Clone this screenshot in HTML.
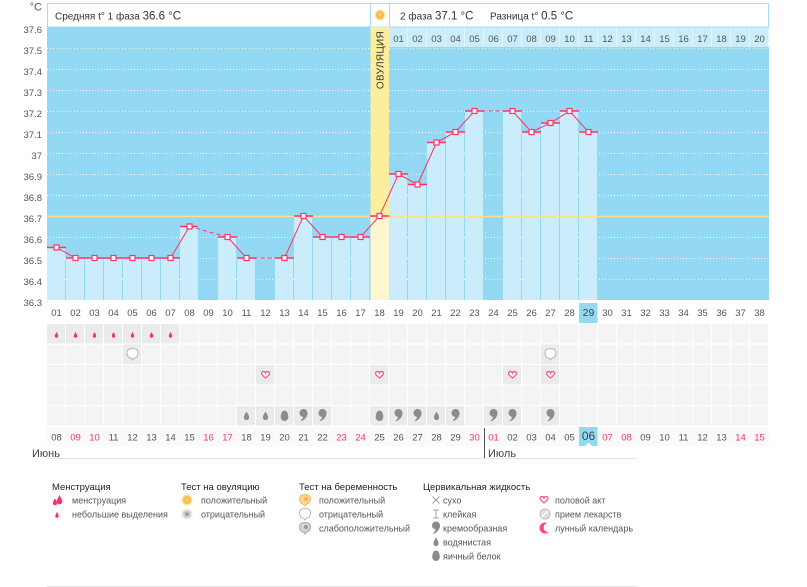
<!DOCTYPE html>
<html><head><meta charset="utf-8"><style>
html,body{margin:0;padding:0;background:#fff;}
svg{display:block;font-family:"Liberation Sans","DejaVu Sans",sans-serif;}
</style></head><body>
<svg width="807" height="587" viewBox="0 0 807 587" xmlns="http://www.w3.org/2000/svg">
<defs>
<pattern id="vsep" x="47" y="0" width="19" height="10" patternUnits="userSpaceOnUse"><rect x="18" y="0" width="1" height="10" fill="#fff"/></pattern>
<pattern id="vsepb" x="47" y="0" width="19" height="10" patternUnits="userSpaceOnUse"><rect x="18" y="0" width="1" height="10" fill="#e3f6fd"/></pattern>
<g id="mdrop"><path d="M0,-3 C0.8,-1.5 1.7,-0.3 1.7,1 A1.7,1.7 0 0 1 -1.7,1 C-1.7,-0.3 -0.8,-1.5 0,-3 Z" fill="#ff2d6a"/></g>
<g id="bub"><path d="M-5.5,-1 C-5.5,-4.5 -3,-5.5 0,-5.5 C3,-5.5 5.5,-4.5 5.5,-1 C5.5,2.5 3,4 1,4.5 L0,6 L-1,4.5 C-3,4 -5.5,2.5 -5.5,-1 Z" fill="#fff" stroke="#b5b5b5" stroke-width="1"/></g>
<g id="heart"><path d="M0,3 C-1,2 -4,0 -4,-1.5 C-4,-3 -3,-3.5 -2,-3.5 C-1,-3.5 -0.3,-2.8 0,-2 C0.3,-2.8 1,-3.5 2,-3.5 C3,-3.5 4,-3 4,-1.5 C4,0 1,2 0,3 Z" fill="#fff" stroke="#ff4b86" stroke-width="1.2"/></g>
<g id="cdrop"><path d="M0,-4.5 C1,-2.5 2.6,-0.8 2.6,1.5 A2.6,2.6 0 0 1 -2.6,1.5 C-2.6,-0.8 -1,-2.5 0,-4.5 Z" fill="#8c8c8c"/></g>
<g id="egg"><path d="M0,-5.5 C2.5,-5.5 3.8,-2 3.8,0.8 C3.8,3.5 2,5 0,5 C-2,5 -3.8,3.5 -3.8,0.8 C-3.8,-2 -2.5,-5.5 0,-5.5 Z" fill="#8c8c8c"/></g>
<g id="comma"><path d="M-4,-2 A4,4 0 1 1 4,-2 C4,2 1,5.5 -3.5,6.5 C-1.5,4.5 -0.5,3 -0.5,2 A4,4 0 0 1 -4,-2 Z" fill="#8c8c8c"/></g>
<g id="sun"><circle r="5.5" fill="#fbe3a0"/><circle r="4" fill="#f8b64c"/><circle r="2" fill="#fbca70"/></g>
</defs>
<rect width="807" height="587" fill="#fff"/>

<!-- header -->
<rect x="47.5" y="3.5" width="721" height="23.5" fill="#fff" stroke="#a8def3"/>
<line x1="370.5" y1="3.5" x2="370.5" y2="27" stroke="#a8def3"/>
<line x1="389.5" y1="3.5" x2="389.5" y2="27" stroke="#a8def3"/>
<use href="#sun" x="380" y="15"/>
<g font-size="10" fill="#333">
<text x="55" y="19.5">Средняя t° 1 фаза <tspan font-size="11.5">36.6 °C</tspan></text>
<text x="400" y="19.5">2 фаза <tspan font-size="11.5">37.1 °C</tspan></text>
<text x="490" y="19.5">Разница t° <tspan font-size="11.5">0.5 °C</tspan></text>
</g>

<!-- plot area -->
<rect x="47" y="27" width="722" height="273" fill="#93d9f3"/>
<rect x="389" y="27.5" width="380" height="19.5" fill="#cbedfb"/>
<rect x="389" y="27.5" width="380" height="19.5" fill="url(#vsepb)"/>
<g font-size="9.5" fill="#555" text-anchor="middle">
<text x="398.5" y="42">01</text><text x="417.5" y="42">02</text><text x="436.5" y="42">03</text><text x="455.5" y="42">04</text><text x="474.5" y="42">05</text><text x="493.5" y="42">06</text><text x="512.5" y="42">07</text><text x="531.5" y="42">08</text><text x="550.5" y="42">09</text><text x="569.5" y="42">10</text><text x="588.5" y="42">11</text><text x="607.5" y="42">12</text><text x="626.5" y="42">13</text><text x="645.5" y="42">14</text><text x="664.5" y="42">15</text><text x="683.5" y="42">16</text><text x="702.5" y="42">17</text><text x="721.5" y="42">18</text><text x="740.5" y="42">19</text><text x="759.5" y="42">20</text>
</g>
<g stroke="#fff" stroke-dasharray="1 2" stroke-width="1">
<line x1="47" y1="48.5" x2="769" y2="48.5"/><line x1="47" y1="69.5" x2="769" y2="69.5"/><line x1="47" y1="90.5" x2="769" y2="90.5"/><line x1="47" y1="111.5" x2="769" y2="111.5"/><line x1="47" y1="132.5" x2="769" y2="132.5"/><line x1="47" y1="153.5" x2="769" y2="153.5"/><line x1="47" y1="174.5" x2="769" y2="174.5"/><line x1="47" y1="195.5" x2="769" y2="195.5"/><line x1="47" y1="237.5" x2="769" y2="237.5"/><line x1="47" y1="258.5" x2="769" y2="258.5"/><line x1="47" y1="279.5" x2="769" y2="279.5"/>
</g>
<!-- ovulation column -->
<rect x="370.5" y="27" width="18.5" height="273" fill="#fcee9c"/>
<text transform="translate(383.5,60) rotate(-90)" font-size="10" fill="#333" text-anchor="middle" letter-spacing="0.3">ОВУЛЯЦИЯ</text>

<!-- bars -->
<g fill="#cbedfb">
<rect x="47" y="247.5" width="18" height="52.5"/>
<rect x="66" y="258" width="18" height="42"/><rect x="85" y="258" width="18" height="42"/><rect x="104" y="258" width="18" height="42"/><rect x="123" y="258" width="18" height="42"/><rect x="142" y="258" width="18" height="42"/><rect x="161" y="258" width="18" height="42"/>
<rect x="180" y="226.5" width="18" height="73.5"/>
<rect x="218" y="237" width="18" height="63"/>
<rect x="237" y="258" width="18" height="42"/>
<rect x="275" y="258" width="18" height="42"/>
<rect x="294" y="216" width="18" height="84"/>
<rect x="313" y="237" width="18" height="63"/><rect x="332" y="237" width="18" height="63"/><rect x="351" y="237" width="18" height="63"/>
<rect x="389" y="174" width="18" height="126"/>
<rect x="408" y="184.5" width="18" height="115.5"/>
<rect x="427" y="142.5" width="18" height="157.5"/>
<rect x="446" y="132" width="18" height="168"/>
<rect x="465" y="111" width="18" height="189"/>
<rect x="503" y="111" width="18" height="189"/>
<rect x="522" y="132" width="18" height="168"/>
<rect x="541" y="123" width="18" height="177"/>
<rect x="560" y="111" width="18" height="189"/>
<rect x="579" y="132" width="18" height="168"/>
</g>
<rect x="370.5" y="216" width="18.5" height="84" fill="#fef6cf"/>

<!-- coverline -->
<line x1="47" y1="216.5" x2="769" y2="216.5" stroke="#f6e48a" stroke-width="1.5"/>

<!-- bar top lines -->
<g stroke="#ff3366" stroke-width="1.5">
<line x1="47" y1="247.5" x2="66" y2="247.5"/>
<line x1="66" y1="258" x2="180" y2="258"/>
<line x1="180" y1="226.5" x2="198" y2="226.5"/>
<line x1="218" y1="237" x2="237" y2="237"/>
<line x1="237" y1="258" x2="256" y2="258"/>
<line x1="275" y1="258" x2="294" y2="258"/>
<line x1="294" y1="216" x2="313" y2="216"/>
<line x1="313" y1="237" x2="370" y2="237"/>
<line x1="370" y1="216" x2="389" y2="216"/>
<line x1="389" y1="174" x2="408" y2="174"/>
<line x1="408" y1="184.5" x2="427" y2="184.5"/>
<line x1="427" y1="142.5" x2="446" y2="142.5"/>
<line x1="446" y1="132" x2="465" y2="132"/>
<line x1="465" y1="111" x2="484" y2="111"/>
<line x1="503" y1="111" x2="522" y2="111"/>
<line x1="522" y1="132" x2="541" y2="132"/>
<line x1="541" y1="123" x2="560" y2="123"/>
<line x1="560" y1="111" x2="579" y2="111"/>
<line x1="579" y1="132" x2="598" y2="132"/>
</g>
<!-- connecting lines -->
<g stroke="#ff3366" stroke-width="1" fill="none">
<polyline points="56.5,247.5 75.5,258 94.5,258 113.5,258 132.5,258 151.5,258 170.5,258 189.5,226.5"/>
<polyline points="227.5,237 246.5,258"/>
<polyline points="284.5,258 303.5,216 322.5,237 341.5,237 360.5,237 379.5,216 398.5,174 417.5,184.5 436.5,142.5 455.5,132 474.5,111"/>
<polyline points="512.5,111 531.5,132 550.5,123 569.5,111 588.5,132"/>
<g stroke-dasharray="4 3">
<line x1="189.5" y1="226.5" x2="227.5" y2="237"/>
<line x1="246.5" y1="258" x2="284.5" y2="258"/>
<line x1="474.5" y1="111" x2="512.5" y2="111"/>
</g>
</g>
<!-- markers -->
<g fill="#fff" stroke="#ff3366" stroke-width="1.2">
<rect x="54" y="245" width="5" height="5"/>
<rect x="73" y="255.5" width="5" height="5"/><rect x="92" y="255.5" width="5" height="5"/><rect x="111" y="255.5" width="5" height="5"/><rect x="130" y="255.5" width="5" height="5"/><rect x="149" y="255.5" width="5" height="5"/><rect x="168" y="255.5" width="5" height="5"/>
<rect x="187" y="224" width="5" height="5"/>
<rect x="225" y="234.5" width="5" height="5"/>
<rect x="244" y="255.5" width="5" height="5"/>
<rect x="282" y="255.5" width="5" height="5"/>
<rect x="301" y="213.5" width="5" height="5"/>
<rect x="320" y="234.5" width="5" height="5"/><rect x="339" y="234.5" width="5" height="5"/><rect x="358" y="234.5" width="5" height="5"/>
<rect x="377" y="213.5" width="5" height="5"/>
<rect x="396" y="171.5" width="5" height="5"/>
<rect x="415" y="182" width="5" height="5"/>
<rect x="434" y="140" width="5" height="5"/>
<rect x="453" y="129.5" width="5" height="5"/>
<rect x="472" y="108.5" width="5" height="5"/>
<rect x="510" y="108.5" width="5" height="5"/>
<rect x="529" y="129.5" width="5" height="5"/>
<rect x="548" y="120.5" width="5" height="5"/>
<rect x="567" y="108.5" width="5" height="5"/>
<rect x="586" y="129.5" width="5" height="5"/>
</g>

<!-- y axis labels -->
<g font-size="9.5" fill="#555" text-anchor="end">
<text x="42" y="10.5" font-size="11">°C</text>
<text x="42" y="33">37.6</text><text x="42" y="54">37.5</text><text x="42" y="75">37.4</text><text x="42" y="96">37.3</text><text x="42" y="117">37.2</text><text x="42" y="138">37.1</text><text x="42" y="159">37</text><text x="42" y="180">36.9</text><text x="42" y="201">36.8</text><text x="42" y="222">36.7</text><text x="42" y="243">36.6</text><text x="42" y="264">36.5</text><text x="42" y="285">36.4</text><text x="42" y="306">36.3</text>
</g>

<!-- cycle day row -->
<rect x="579" y="303" width="18.5" height="20" fill="#93d9f3"/>
<g font-size="9.5" fill="#555" text-anchor="middle">
<text x="56.5" y="316">01</text><text x="75.5" y="316">02</text><text x="94.5" y="316">03</text><text x="113.5" y="316">04</text><text x="132.5" y="316">05</text><text x="151.5" y="316">06</text><text x="170.5" y="316">07</text><text x="189.5" y="316">08</text><text x="208.5" y="316">09</text><text x="227.5" y="316">10</text><text x="246.5" y="316">11</text><text x="265.5" y="316">12</text><text x="284.5" y="316">13</text><text x="303.5" y="316">14</text><text x="322.5" y="316">15</text><text x="341.5" y="316">16</text><text x="360.5" y="316">17</text><text x="379.5" y="316">18</text><text x="398.5" y="316">19</text><text x="417.5" y="316">20</text><text x="436.5" y="316">21</text><text x="455.5" y="316">22</text><text x="474.5" y="316">23</text><text x="493.5" y="316">24</text><text x="512.5" y="316">25</text><text x="531.5" y="316">26</text><text x="550.5" y="316">27</text><text x="569.5" y="316">28</text><text x="588.5" y="316" fill="#444" font-size="10.5">29</text><text x="607.5" y="316">30</text><text x="626.5" y="316">31</text><text x="645.5" y="316">32</text><text x="664.5" y="316">33</text><text x="683.5" y="316">34</text><text x="702.5" y="316">35</text><text x="721.5" y="316">36</text><text x="740.5" y="316">37</text><text x="759.5" y="316">38</text>
</g>

<!-- icon rows -->
<rect x="47" y="324" width="722" height="101.5" fill="#f4f4f6"/>
<g fill="#ebebeb">
<rect x="47" y="324" width="18" height="19.5"/><rect x="66" y="324" width="18" height="19.5"/><rect x="85" y="324" width="18" height="19.5"/><rect x="104" y="324" width="18" height="19.5"/><rect x="123" y="324" width="18" height="19.5"/><rect x="142" y="324" width="18" height="19.5"/><rect x="161" y="324" width="18" height="19.5"/>
<rect x="123" y="344.5" width="18" height="19.5"/><rect x="541" y="344.5" width="18" height="19.5"/>
<rect x="256" y="365" width="18" height="19.5"/><rect x="370" y="365" width="18" height="19.5"/><rect x="503" y="365" width="18" height="19.5"/><rect x="541" y="365" width="18" height="19.5"/>
<rect x="237" y="406" width="18" height="19.5"/><rect x="256" y="406" width="18" height="19.5"/><rect x="275" y="406" width="18" height="19.5"/><rect x="294" y="406" width="18" height="19.5"/><rect x="313" y="406" width="18" height="19.5"/><rect x="370" y="406" width="18" height="19.5"/><rect x="389" y="406" width="18" height="19.5"/><rect x="408" y="406" width="18" height="19.5"/><rect x="427" y="406" width="18" height="19.5"/><rect x="446" y="406" width="18" height="19.5"/><rect x="484" y="406" width="18" height="19.5"/><rect x="503" y="406" width="18" height="19.5"/><rect x="541" y="406" width="18" height="19.5"/>
</g>
<rect x="47" y="324" width="722" height="101.5" fill="url(#vsep)"/>
<g fill="#fff">
<rect x="47" y="343.5" width="722" height="1"/><rect x="47" y="364" width="722" height="1"/><rect x="47" y="384.5" width="722" height="1"/><rect x="47" y="405" width="722" height="1"/>
</g>
<!-- icons -->
<use href="#mdrop" x="56.5" y="335"/><use href="#mdrop" x="75.5" y="335"/><use href="#mdrop" x="94.5" y="335"/><use href="#mdrop" x="113.5" y="335"/><use href="#mdrop" x="132.5" y="335"/><use href="#mdrop" x="151.5" y="335"/><use href="#mdrop" x="170.5" y="335"/>
<use href="#bub" x="132.5" y="354"/><use href="#bub" x="550.5" y="354"/>
<use href="#heart" x="265.5" y="375"/><use href="#heart" x="379.5" y="375"/><use href="#heart" x="512.5" y="375"/><use href="#heart" x="550.5" y="375"/>
<use href="#cdrop" x="246.5" y="416"/><use href="#cdrop" x="265.5" y="416"/><use href="#egg" x="284.5" y="416"/><use href="#comma" x="303.5" y="415"/><use href="#comma" x="322.5" y="415"/>
<use href="#egg" x="379.5" y="416"/><use href="#comma" x="398.5" y="415"/><use href="#comma" x="417.5" y="415"/><use href="#cdrop" x="436.5" y="416"/><use href="#comma" x="455.5" y="415"/>
<use href="#comma" x="493.5" y="415"/><use href="#comma" x="512.5" y="415"/><use href="#comma" x="550.5" y="415"/>

<!-- date row -->
<rect x="47" y="427" width="722" height="19" fill="#fafafa"/>
<rect x="579" y="427" width="18.5" height="19" fill="#93d9f3"/>
<polygon points="585,446 588.5,442.5 592,446" fill="#fff"/>
<g font-size="9.5" fill="#555" text-anchor="middle">
<text x="56.5" y="440.5">08</text><text x="75.5" y="440.5" fill="#ff3366">09</text><text x="94.5" y="440.5" fill="#ff3366">10</text><text x="113.5" y="440.5">11</text><text x="132.5" y="440.5">12</text><text x="151.5" y="440.5">13</text><text x="170.5" y="440.5">14</text><text x="189.5" y="440.5">15</text><text x="208.5" y="440.5" fill="#ff3366">16</text><text x="227.5" y="440.5" fill="#ff3366">17</text><text x="246.5" y="440.5">18</text><text x="265.5" y="440.5">19</text><text x="284.5" y="440.5">20</text><text x="303.5" y="440.5">21</text><text x="322.5" y="440.5">22</text><text x="341.5" y="440.5" fill="#ff3366">23</text><text x="360.5" y="440.5" fill="#ff3366">24</text><text x="379.5" y="440.5">25</text><text x="398.5" y="440.5">26</text><text x="417.5" y="440.5">27</text><text x="436.5" y="440.5">28</text><text x="455.5" y="440.5">29</text><text x="474.5" y="440.5" fill="#ff3366">30</text><text x="493.5" y="440.5" fill="#ff3366">01</text><text x="512.5" y="440.5">02</text><text x="531.5" y="440.5">03</text><text x="550.5" y="440.5">04</text><text x="569.5" y="440.5">05</text><text x="588.5" y="440" fill="#444" font-size="12">06</text><text x="607.5" y="440.5" fill="#ff3366">07</text><text x="626.5" y="440.5" fill="#ff3366">08</text><text x="645.5" y="440.5">09</text><text x="664.5" y="440.5">10</text><text x="683.5" y="440.5">11</text><text x="702.5" y="440.5">12</text><text x="721.5" y="440.5">13</text><text x="740.5" y="440.5" fill="#ff3366">14</text><text x="759.5" y="440.5" fill="#ff3366">15</text>
</g>
<!-- months -->
<line x1="47" y1="458.5" x2="637" y2="458.5" stroke="#e3e3e3"/>
<line x1="484.5" y1="428" x2="484.5" y2="458" stroke="#555"/>
<g font-size="11" fill="#444">
<text x="32" y="457">Июнь</text>
<text x="488" y="457">Июль</text>
</g>

<!-- legend -->
<g font-size="9.5" fill="#222">
<text x="52" y="490">Менструация</text>
<text x="181" y="490">Тест на овуляцию</text>
<text x="299" y="490">Тест на беременность</text>
<text x="423" y="490">Цервикальная жидкость</text>
</g>
<g font-size="9" fill="#555">
<text x="72" y="503.5">менструация</text>
<text x="72" y="517.5">небольшие выделения</text>
<text x="201" y="503.5">положительный</text>
<text x="201" y="517.5">отрицательный</text>
<text x="319" y="503.5">положительный</text>
<text x="319" y="517.5">отрицательный</text>
<text x="319" y="531.5">слабоположительный</text>
<text x="443" y="503.5">сухо</text>
<text x="443" y="517.5">клейкая</text>
<text x="443" y="531.5">кремообразная</text>
<text x="443" y="545.5">водянистая</text>
<text x="443" y="559.5">яичный белок</text>
<text x="555" y="503.5">половой акт</text>
<text x="555" y="517.5">прием лекарств</text>
<text x="555" y="531.5">лунный календарь</text>
</g>
<!-- legend icons -->
<g transform="translate(55,502) scale(1.2)"><use href="#mdrop"/></g>
<g transform="translate(59.5,500) scale(1.6)"><use href="#mdrop"/></g>
<use href="#mdrop" x="57" y="515"/>
<use href="#sun" x="187" y="500"/>
<g transform="translate(187,514)"><circle r="5.5" fill="#ebebeb"/><circle r="4" fill="#d0d0d0"/><circle r="1.8" fill="#999"/></g>
<g transform="translate(305,500)"><path d="M-5.5,-1 C-5.5,-4.5 -3,-5.5 0,-5.5 C3,-5.5 5.5,-4.5 5.5,-1 C5.5,2.5 3,4 1,4.5 L0,6 L-1,4.5 C-3,4 -5.5,2.5 -5.5,-1 Z" fill="#fbd48a" stroke="#f2bd62"/><circle cx="1" cy="-1" r="2" fill="#f6b14a"/></g>
<use href="#bub" x="305" y="514"/>
<g transform="translate(305,528)"><path d="M-5.5,-1 C-5.5,-4.5 -3,-5.5 0,-5.5 C3,-5.5 5.5,-4.5 5.5,-1 C5.5,2.5 3,4 1,4.5 L0,6 L-1,4.5 C-3,4 -5.5,2.5 -5.5,-1 Z" fill="#d4d4d4" stroke="#aaa"/><circle cx="1" cy="-1" r="2" fill="#999"/></g>
<g stroke="#999" stroke-width="0.9"><line x1="432.5" y1="496.5" x2="439.5" y2="503.5"/><line x1="439.5" y1="496.5" x2="432.5" y2="503.5"/>
<line x1="433" y1="510" x2="439" y2="510"/><line x1="436" y1="510" x2="436" y2="518"/><line x1="433" y1="518" x2="439" y2="518"/></g>
<use href="#comma" x="436" y="527.5"/>
<use href="#cdrop" x="436" y="542"/>
<use href="#egg" x="436" y="556"/>
<use href="#heart" x="544" y="500"/>
<g transform="translate(545,514)"><circle r="5" fill="#e0e0e0" stroke="#bdbdbd"/><line x1="-3" y1="3" x2="3" y2="-3" stroke="#fff" stroke-width="1.5"/></g>
<circle cx="545" cy="528" r="5.5" fill="#ff4a78"/>
<circle cx="548.2" cy="527.5" r="4.6" fill="#fff"/>
<line x1="46" y1="586.5" x2="637" y2="586.5" stroke="#e6e6e6"/>
</svg>
</body></html>
